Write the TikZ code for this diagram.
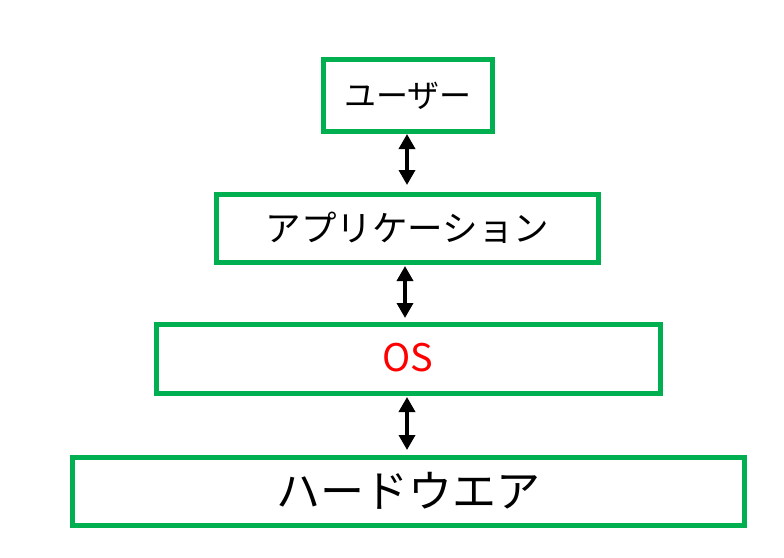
\documentclass[tikz,border=0pt]{standalone}
\usepackage{fontspec}
\setmainfont{Noto Sans CJK JP}
\usetikzlibrary{arrows.meta}
\definecolor{boxgreen}{HTML}{00B050}
\definecolor{osred}{HTML}{FF0000}
\tikzset{
  layer/.style={draw=boxgreen, line width=5pt, fill=white},
  lbl/.style={inner sep=0pt, anchor=center},
  link/.style={line width=3.5pt, {Triangle[width=16pt,length=15pt]}-{Triangle[width=16pt,length=15pt]}}
}
\begin{document}
\begin{tikzpicture}[x=1pt,y=-1pt]
\useasboundingbox (0,0) rectangle (784,557);
\draw[layer] (323.5,59.5) rectangle (492.5,131);
\draw[layer] (216.5,194.5) rectangle (598,262);
\draw[layer] (156,324.5) rectangle (660,393);
\draw[layer] (72.5,457) rectangle (744,525);
\node[lbl, font=\fontsize{32}{32}\selectfont] (user) at (408,96) {ユーザー};
\node[lbl, font=\fontsize{35.5}{35.5}\selectfont] (app) at (407.5,228) {アプリケーション};
\node[lbl, font=\fontsize{38}{38}\selectfont, text=osred] (os) at (408,358) {OS};
\node[lbl, font=\fontsize{44}{44}\selectfont] (hw) at (408,491) {ハードウエア};
\coordinate (a1t) at (407,134);
\coordinate (a1b) at (407,185);
\coordinate (a2t) at (405,266);
\coordinate (a2b) at (405,318);
\coordinate (a3t) at (407,397);
\coordinate (a3b) at (407,450);
\draw[link] (a1t) -- (a1b);
\draw[link] (a2t) -- (a2b);
\draw[link] (a3t) -- (a3b);
\end{tikzpicture}
\end{document}
